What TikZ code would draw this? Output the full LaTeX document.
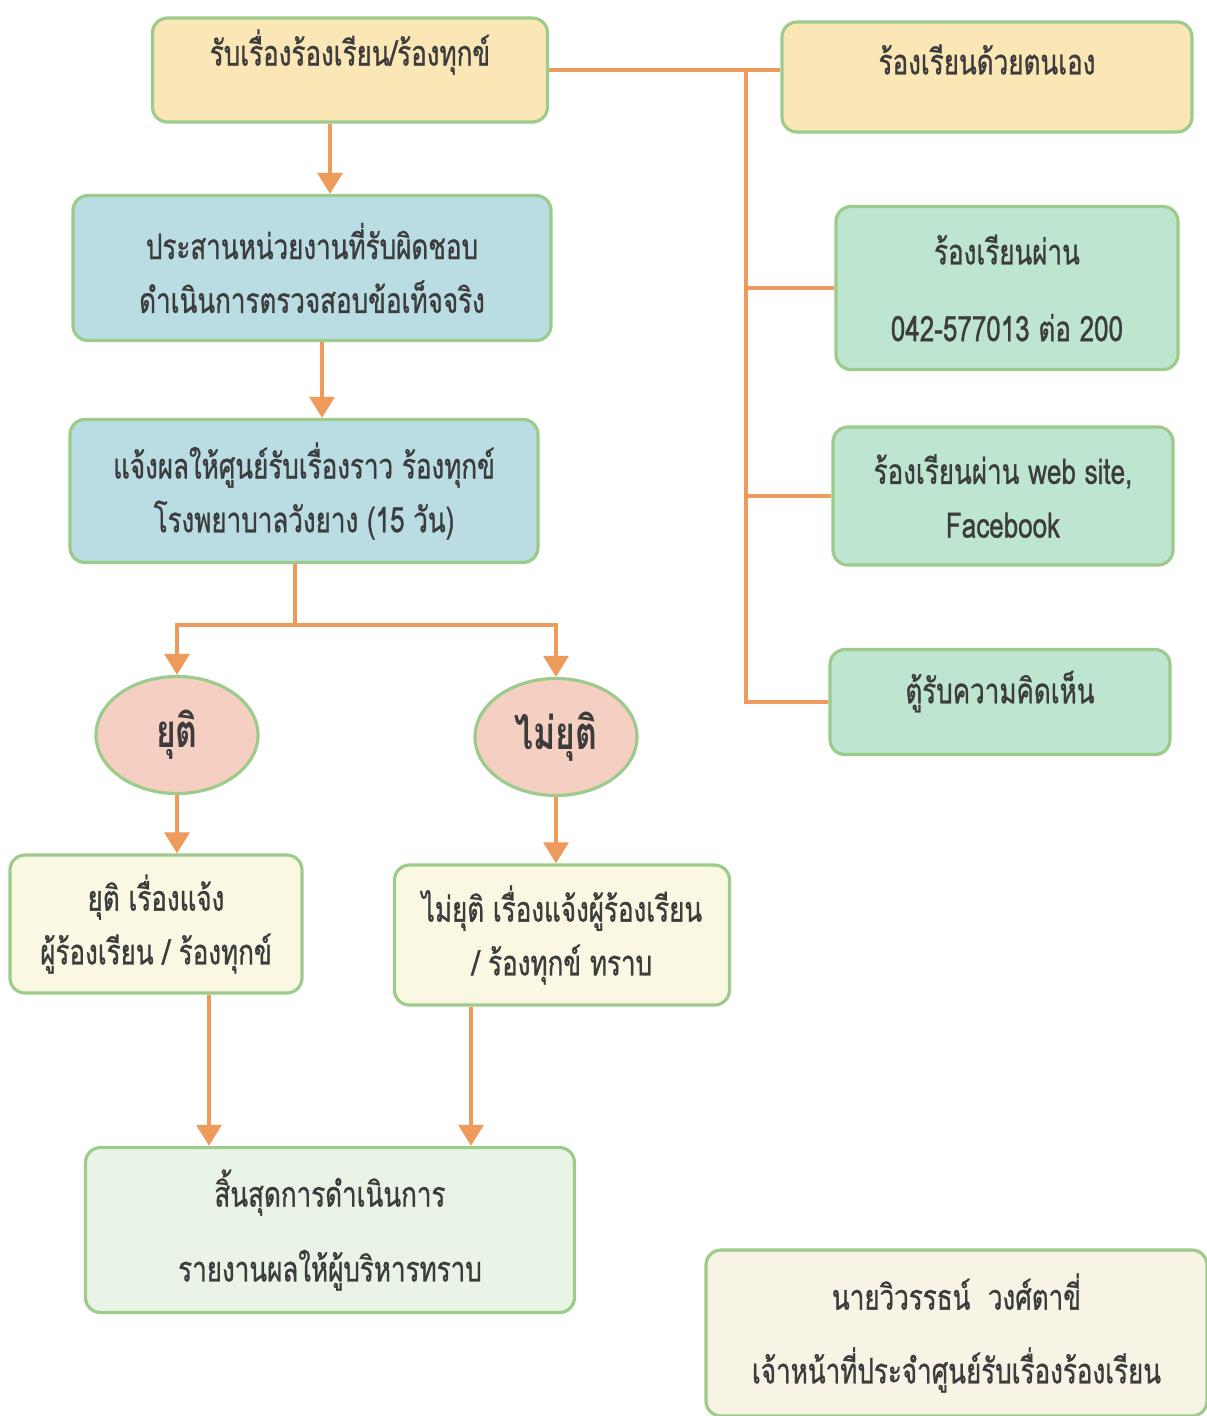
\documentclass[tikz,border=0pt]{standalone}
\usepackage{fontspec}
\setmainfont[Script=Thai, FakeStretch=0.74, UprightFeatures={FakeBold=0.8}]{Loma}
\usetikzlibrary{arrows.meta,shapes.geometric}

\definecolor{boxline}{HTML}{9DCB8B}
\definecolor{linkorange}{HTML}{EE9A5B}
\definecolor{txt}{HTML}{3C3C3C}
\definecolor{yellowfill}{HTML}{FBE7B6}
\definecolor{bluefill}{HTML}{B9DDE2}
\definecolor{greenfill}{HTML}{BEE5CF}
\definecolor{creamfill}{HTML}{FAF8E2}
\definecolor{palegreen}{HTML}{E9F4E6}
\definecolor{palecream}{HTML}{F7F4E6}
\definecolor{pinkfill}{HTML}{F5CFC1}

\begin{document}
\begin{tikzpicture}[
  box/.style={draw=boxline, line width=0.9pt, rounded corners=0.15cm, inner sep=0pt,
    align=center, text=txt, font=\fontsize{10}{15.3}\selectfont},
  oval/.style={ellipse, draw=boxline, line width=0.9pt, fill=pinkfill, inner sep=0pt,
    minimum width=1.62cm, minimum height=1.17cm, text=txt, font=\bfseries\fontsize{13}{15}\selectfont},
  link/.style={draw=linkorange, line width=1.3pt},
  flow/.style={link, -{Triangle[width=7pt,length=6pt]}}
]
\useasboundingbox (0,0) rectangle (12.07,-14.16);

\node[box, fill=yellowfill, minimum width=3.95cm, minimum height=1.04cm, text depth=0.45cm] (receive) at (3.50,-0.70) {รับเรื่องร้องเรียน/ร้องทุกข์};
\node[box, fill=yellowfill, minimum width=4.10cm, minimum height=1.10cm, text depth=0.35cm] (self) at (9.87,-0.77) {ร้องเรียนด้วยตนเอง};
\node[box, fill=bluefill, minimum width=4.78cm, minimum height=1.45cm] (coord) at (3.12,-2.68) {ประสานหน่วยงานที่รับผิดชอบ\\ดำเนินการตรวจสอบข้อเท็จจริง};
\node[box, fill=greenfill, minimum width=3.42cm, minimum height=1.63cm] (phone) at (10.07,-2.88) {ร้องเรียนผ่าน\\[0.23cm]042-577013 ต่อ 200};
\node[box, fill=bluefill, minimum width=4.68cm, minimum height=1.43cm] (notify) at (3.04,-4.91) {แจ้งผลให้ศูนย์รับเรื่องราว ร้องทุกข์\\โรงพยาบาลวังยาง (15 วัน)};
\node[box, fill=greenfill, minimum width=3.40cm, minimum height=1.38cm] (web) at (10.03,-4.96) {ร้องเรียนผ่าน web site,\\Facebook};
\node[box, fill=greenfill, minimum width=3.40cm, minimum height=1.05cm, text depth=0.3cm] (comment) at (10.00,-7.02) {ตู้รับความคิดเห็น};

\node[oval] (stop) at (1.77,-7.35) {ยุติ};
\node[oval] (go) at (5.56,-7.37) {ไม่ยุติ};

\node[box, fill=creamfill, minimum width=2.92cm, minimum height=1.38cm] (stopnote) at (1.56,-9.24) {ยุติ เรื่องแจ้ง\\ผู้ร้องเรียน / ร้องทุกข์};
\node[box, fill=creamfill, minimum width=3.35cm, minimum height=1.40cm] (gonote) at (5.62,-9.35) {ไม่ยุติ เรื่องแจ้งผู้ร้องเรียน\\/ ร้องทุกข์ ทราบ};
\node[box, fill=palegreen, minimum width=4.89cm, minimum height=1.65cm] (finish) at (3.30,-12.30) {สิ้นสุดการดำเนินการ\\[0.21cm]รายงานผลให้ผู้บริหารทราบ};
\node[box, fill=palecream, minimum width=5.01cm, minimum height=1.66cm] (staff) at (9.565,-13.33) {นายวิวรรธน์~~วงศ์ตาขี่\\[0.2cm]เจ้าหน้าที่ประจำศูนย์รับเรื่องร้องเรียน};

\coordinate (trunk) at (7.46,0);
\coordinate (colA) at (3.30,0);
\coordinate (colB) at (3.22,0);
\coordinate (split) at (2.95,-6.25);
\coordinate (colD) at (2.09,0);
\coordinate (colE) at (4.71,0);

\draw[link] (receive.east) -- (receive.east -| self.west);
\draw[link] (receive.east -| trunk) |- (comment.west);
\draw[link] (trunk |- phone.west) -- (phone.west);
\draw[link] (trunk |- web.west) -- (web.west);

\draw[flow] (receive.south -| colA) -- (coord.north -| colA);
\draw[flow] (coord.south -| colB) -- (notify.north -| colB);
\draw[link] (notify.south -| split) -- (split);
\draw[flow] (split) -| (stop.north);
\draw[flow] (split) -| (go.north);
\draw[flow] (stop.south) -- (stop.south |- stopnote.north);
\draw[flow] (go.south) -- (go.south |- gonote.north);
\draw[flow] (stopnote.south -| colD) -- (finish.north -| colD);
\draw[flow] (gonote.south -| colE) -- (finish.north -| colE);

\end{tikzpicture}
\end{document}
